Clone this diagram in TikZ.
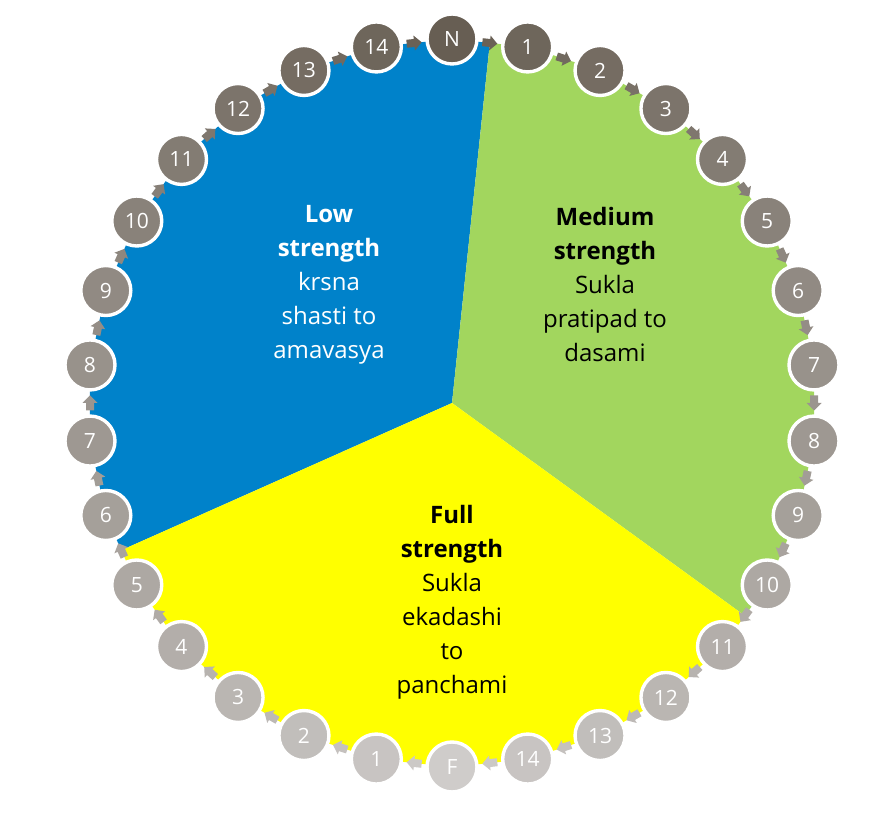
\documentclass[tikz,border=0pt]{standalone}
\usepackage{fontspec}
\setmainfont{Open Sans}
\usetikzlibrary{calc}
\definecolor{cblue}{RGB}{0,130,202}
\definecolor{cgreen}{RGB}{162,214,94}
\definecolor{cyellow}{RGB}{255,255,0}
\definecolor{cdark}{RGB}{103,94,83}
\definecolor{clight}{RGB}{207,204,202}
\begin{document}
\begin{tikzpicture}[x=1pt,y=1pt,
  moon/.style={circle, minimum size=50pt, inner sep=0pt, draw=white, line width=3.4pt,
    text=white, font=\fontsize{21}{21}\selectfont},
  lbl/.style={align=center, inner sep=0pt, font=\fontsize{24}{34}\selectfont}]
\useasboundingbox (0,0) rectangle (889,814);
\coordinate (O) at (452,411);
\foreach \i in {0,...,29}{
  \coordinate (p\i) at ($(O)+({90-12*\i}:364)$);
}
\coordinate (bg) at ($(p0)!0.5!(p1)$);
\coordinate (gy) at ($(p10)!0.5!(p11)$);
\coordinate (yb) at ($(p20)!0.5!(p21)$);
% sectors
\fill[cblue] (O) -- (bg) -- (p0) -- (p29) -- (p28) -- (p27) -- (p26) -- (p25) -- (p24)
  -- (p23) -- (p22) -- (p21) -- (yb) -- cycle;
\fill[cgreen] (O) -- (bg) -- (p1) -- (p2) -- (p3) -- (p4) -- (p5) -- (p6) -- (p7)
  -- (p8) -- (p9) -- (p10) -- (gy) -- cycle;
\fill[cyellow] (O) -- (gy) -- (p11) -- (p12) -- (p13) -- (p14) -- (p15) -- (p16)
  -- (p17) -- (p18) -- (p19) -- (p20) -- (yb) -- cycle;
% arrows
\foreach \i in {0,...,29}{
  \pgfmathsetmacro\ang{84-12*\i}
  \pgfmathsetmacro\dm{min(\i+0.5,29.5-\i)}
  \pgfmathtruncatemacro\pct{100-round(\dm*100/15)}
  \begin{scope}[shift={(O)}, rotate=\ang]
    \fill[cdark!\pct!clight] (358,7.5) -- (366,7.5) -- (366,0) -- (369.5,0) -- (362,-7.5)
      -- (354.5,0) -- (358,0) -- cycle;
  \end{scope}
}
% moons
\foreach \i in {0,...,29}{
  \pgfmathtruncatemacro\d{min(\i,30-\i)}
  \pgfmathtruncatemacro\pct{100-round(\d*100/15)}
  \pgfmathtruncatemacro\num{\i<15 ? \i : \i-15}
  \node[moon, fill=cdark!\pct!clight] (c\i) at (p\i)
    {\ifnum\i=0 N\else\ifnum\i=15 F\else\num\fi\fi};
}
% labels
\node[lbl, text=white] (lowtxt) at (329,529) {\textbf{Low}\\\textbf{strength}\\krsna\\shasti to\\amavasya};
\node[lbl, text=black] (medtxt) at (605,529) {\textbf{Medium}\\\textbf{strength}\\Sukla\\pratipad to\\dasami};
\node[lbl, text=black] (fulltxt) at (452,212) {\textbf{Full}\\\textbf{strength}\\Sukla\\ekadashi\\to\\panchami};
\end{tikzpicture}
\end{document}
